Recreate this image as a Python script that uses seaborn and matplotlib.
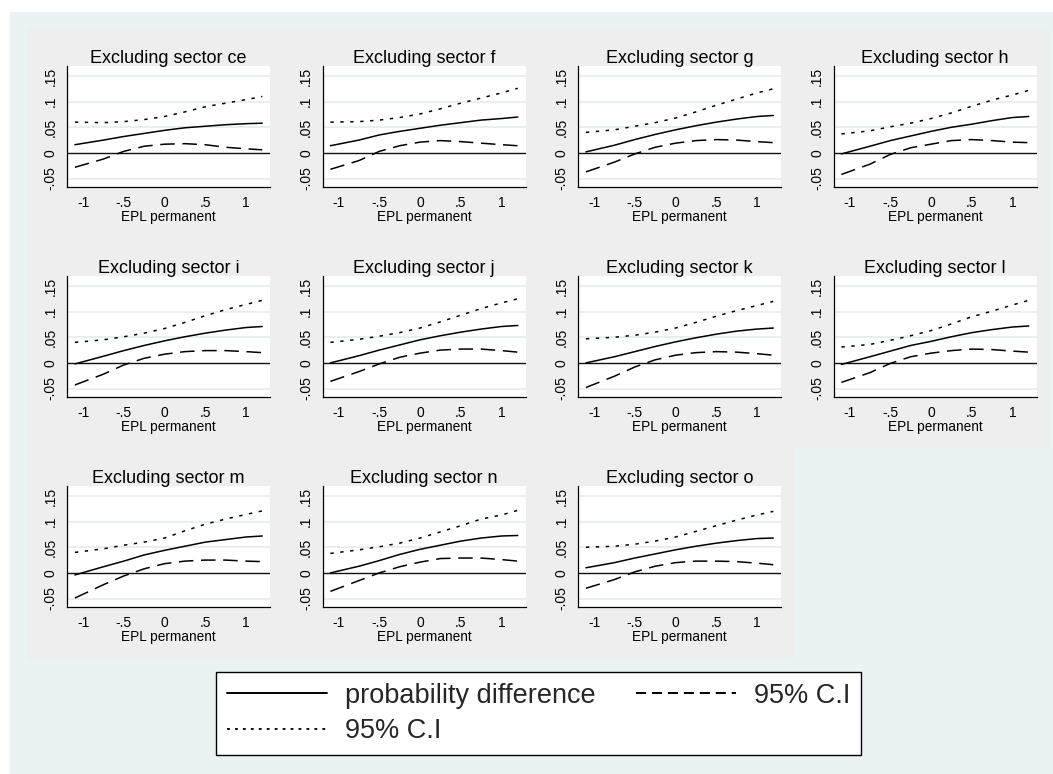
import numpy as np
import pandas as pd
import matplotlib.pyplot as plt
import seaborn as sns
from matplotlib.patches import Rectangle
from matplotlib.lines import Line2D

# x grid (EPL permanent) and one set of curves per excluded sector
epl = [-1.1, -0.75, -0.5, -0.25, 0.0, 0.25, 0.5, 0.75, 1.0, 1.2]
sectors = ["ce", "f", "g", "h", "i", "j", "k", "l", "m", "n", "o"]

# sector ce
diff_ce = [0.016, 0.025, 0.032, 0.038, 0.044, 0.049, 0.052, 0.055, 0.057, 0.058]
lo_ce = [-0.028, -0.012, 0.003, 0.013, 0.017, 0.018, 0.016, 0.011, 0.008, 0.006]
hi_ce = [0.060, 0.059, 0.061, 0.065, 0.071, 0.080, 0.090, 0.097, 0.104, 0.110]
# sector f
diff_f = [0.014, 0.025, 0.035, 0.042, 0.048, 0.054, 0.059, 0.064, 0.067, 0.070]
lo_f = [-0.032, -0.015, 0.003, 0.014, 0.021, 0.024, 0.022, 0.019, 0.016, 0.014]
hi_f = [0.060, 0.061, 0.064, 0.069, 0.076, 0.086, 0.097, 0.107, 0.117, 0.126]
# sector g
diff_g = [0.002, 0.015, 0.026, 0.036, 0.045, 0.053, 0.060, 0.066, 0.071, 0.073]
lo_g = [-0.037, -0.018, -0.002, 0.011, 0.019, 0.024, 0.026, 0.025, 0.022, 0.020]
hi_g = [0.040, 0.045, 0.052, 0.059, 0.068, 0.080, 0.093, 0.105, 0.117, 0.125]
# sector h
diff_h = [-0.002, 0.013, 0.024, 0.033, 0.042, 0.050, 0.056, 0.063, 0.069, 0.071]
lo_h = [-0.042, -0.022, -0.003, 0.010, 0.017, 0.024, 0.026, 0.024, 0.021, 0.020]
hi_h = [0.037, 0.043, 0.051, 0.058, 0.067, 0.078, 0.091, 0.103, 0.113, 0.122]
# sector i
diff_i = [-0.002, 0.013, 0.024, 0.034, 0.043, 0.051, 0.058, 0.064, 0.069, 0.071]
lo_i = [-0.043, -0.022, -0.004, 0.009, 0.017, 0.022, 0.024, 0.024, 0.022, 0.020]
hi_i = [0.040, 0.045, 0.051, 0.058, 0.067, 0.079, 0.092, 0.104, 0.114, 0.122]
# sector j
diff_j = [0.000, 0.014, 0.025, 0.035, 0.045, 0.053, 0.060, 0.066, 0.071, 0.073]
lo_j = [-0.036, -0.017, -0.002, 0.011, 0.019, 0.025, 0.027, 0.027, 0.024, 0.021]
hi_j = [0.040, 0.046, 0.052, 0.059, 0.068, 0.080, 0.093, 0.106, 0.117, 0.125]
# sector k
diff_k = [0.000, 0.012, 0.022, 0.032, 0.041, 0.049, 0.056, 0.062, 0.066, 0.068]
lo_k = [-0.048, -0.026, -0.008, 0.006, 0.015, 0.020, 0.022, 0.021, 0.018, 0.015]
hi_k = [0.047, 0.050, 0.054, 0.060, 0.068, 0.079, 0.091, 0.102, 0.112, 0.120]
# sector l
diff_l = [-0.003, 0.012, 0.023, 0.034, 0.042, 0.051, 0.059, 0.065, 0.070, 0.072]
lo_l = [-0.038, -0.019, -0.001, 0.012, 0.019, 0.024, 0.027, 0.026, 0.023, 0.021]
hi_l = [0.031, 0.036, 0.044, 0.053, 0.063, 0.076, 0.090, 0.101, 0.113, 0.122]
# sector m
diff_m = [-0.004, 0.012, 0.023, 0.035, 0.044, 0.052, 0.060, 0.065, 0.070, 0.072]
lo_m = [-0.049, -0.023, -0.006, 0.008, 0.018, 0.023, 0.025, 0.025, 0.023, 0.022]
hi_m = [0.040, 0.047, 0.054, 0.060, 0.068, 0.082, 0.095, 0.105, 0.114, 0.121]
# sector n
diff_n = [0.000, 0.013, 0.024, 0.036, 0.046, 0.054, 0.062, 0.068, 0.072, 0.073]
lo_n = [-0.036, -0.015, 0.000, 0.012, 0.021, 0.028, 0.029, 0.029, 0.026, 0.023]
hi_n = [0.038, 0.045, 0.051, 0.058, 0.068, 0.080, 0.092, 0.105, 0.113, 0.122]
# sector o
diff_o = [0.010, 0.020, 0.029, 0.037, 0.045, 0.052, 0.058, 0.063, 0.067, 0.068]
lo_o = [-0.030, -0.013, 0.002, 0.013, 0.020, 0.023, 0.023, 0.022, 0.019, 0.016]
hi_o = [0.050, 0.052, 0.056, 0.062, 0.070, 0.081, 0.092, 0.103, 0.113, 0.120]

series_labels = ["probability difference", "95% C.I", "95% C.I"]
xticks = [-1, -0.5, 0, 0.5, 1]
xtick_labels = ["-1", "-.5", "0", ".5", "1"]
yticks = [-0.05, 0, 0.05, 0.1, 0.15]
ytick_labels = ["-.05", "0", ".05", ".1", ".15"]

values = {}
for s in sectors:
    values[s] = {"diff": globals()["diff_" + s], "lo": globals()["lo_" + s], "hi": globals()["hi_" + s]}

rows = []
for s in sectors:
    for key in ["diff", "lo", "hi"]:
        for x, y in zip(epl, values[s][key]):
            rows.append({"sector": s, "series": key, "epl": x, "value": y})
df = pd.DataFrame(rows)

sns.set_theme(style="white")
plt.rcParams["font.family"] = ["Liberation Sans", "DejaVu Sans"]

W, H = 1053, 774
fig = plt.figure(figsize=(W / 100, H / 100), dpi=100)
fig.patch.set_facecolor("white")

# stata-like backgrounds
fig.add_artist(Rectangle((10 / W, 0), 1 - 10 / W, 1 - 12 / H, transform=fig.transFigure,
                         facecolor="#EAF2F3", edgecolor="none", zorder=-20))

dashes = {"diff": "", "lo": (9.5, 5), "hi": (2.2, 4.3)}
cell_w, cell_h = 255.5, 210

for n, s in enumerate(sectors):
    r, c = divmod(n, 4)
    cx, cy = 27 + cell_w * c, 29 + cell_h * r
    fig.add_artist(Rectangle((cx / W, 1 - (cy + cell_h) / H), cell_w / W, cell_h / H,
                             transform=fig.transFigure, facecolor="#EEEEEE",
                             edgecolor="none", zorder=-10))
    left, top = cx + 40, cy + 37
    ax = fig.add_axes([left / W, 1 - (top + 121) / H, 203 / W, 121 / H])
    ax.set_facecolor("white")
    for y in yticks:
        if y != 0:
            ax.axhline(y, color="#E3EAEB", lw=1.1, zorder=0)
    ax.axhline(0, color="#111111", lw=1.0, zorder=1)
    sns.lineplot(data=df[df["sector"] == s], x="epl", y="value", style="series",
                 style_order=["diff", "lo", "hi"], dashes=dashes, color="black",
                 lw=1.1, legend=False, ax=ax, zorder=3)
    ax.set_xlim(-1.197, 1.295)
    ax.set_ylim(-0.0665, 0.1695)
    ax.set_xticks(xticks)
    ax.set_xticklabels(xtick_labels)
    ax.set_yticks(yticks)
    ax.set_yticklabels(ytick_labels, rotation=90, va="center")
    ax.tick_params(axis="both", direction="out", length=4.3, width=0.8, color="black",
                   labelsize=10, pad=2.5, labelcolor="black")
    for side in ["top", "right"]:
        ax.spines[side].set_visible(False)
    for side in ["left", "bottom"]:
        ax.spines[side].set_color("black")
        ax.spines[side].set_linewidth(0.9)
    ax.set_xlabel("EPL permanent", fontsize=9.8, labelpad=0.0, color="black")
    ax.set_ylabel("")
    ax.set_title(f"Excluding sector {s}", fontsize=13, pad=2, color="black")

handles = [
    Line2D([], [], color="black", lw=1.4),
    Line2D([], [], color="black", lw=1.3, dashes=(1.6, 2.8)),
    Line2D([], [], color="black", lw=1.4, dashes=(5.2, 3.0)),
]
labels = [series_labels[0], series_labels[2], series_labels[1]]
leg = fig.legend(handles, labels, ncol=2, mode="expand", loc="lower left",
                 bbox_to_anchor=(216 / W, 1 - 755 / H, 645 / W, 87 / H),
                 borderaxespad=0, fancybox=False, frameon=True, fontsize=19.5,
                 handlelength=3.7, handletextpad=0.65, labelspacing=0.35,
                 borderpad=0.4, columnspacing=1.2, framealpha=1)
leg.get_frame().set_edgecolor("black")
leg.get_frame().set_linewidth(1.0)
leg.get_frame().set_facecolor("white")

fig.savefig("out.png", dpi=100)
